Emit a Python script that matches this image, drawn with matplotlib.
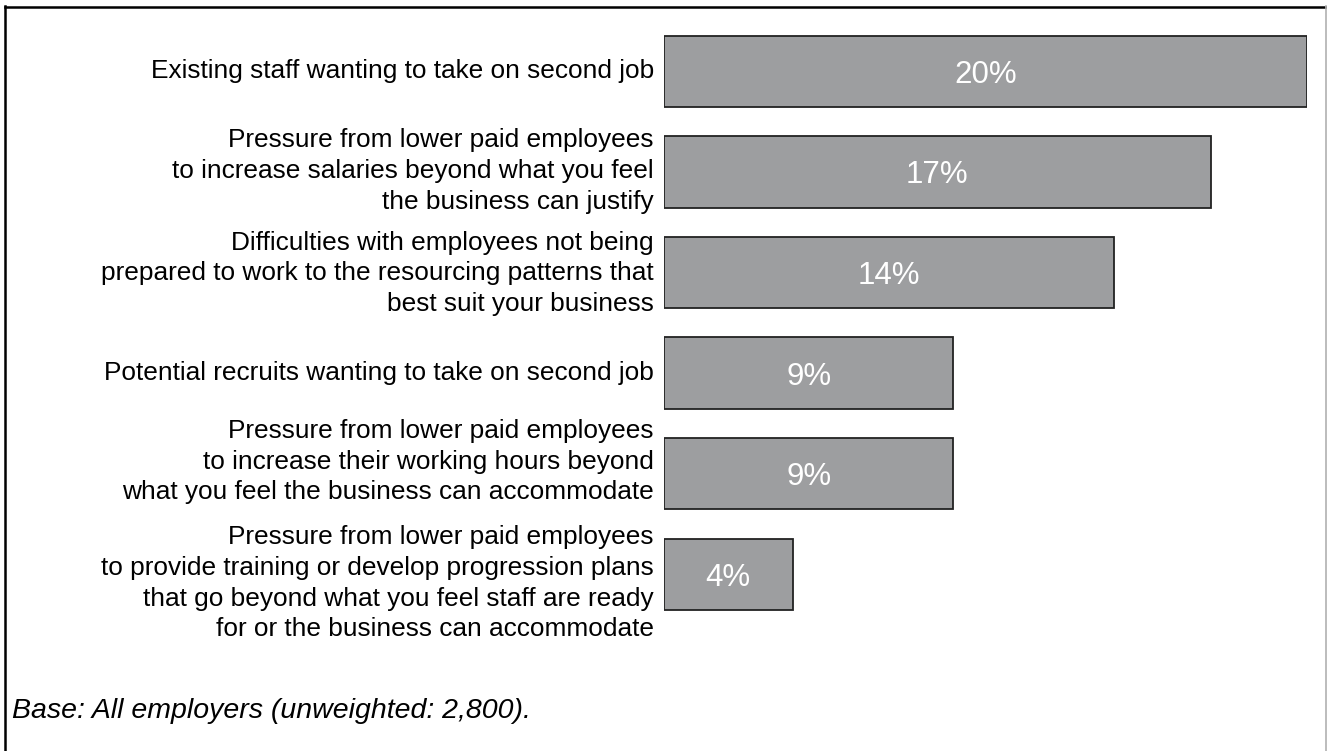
import numpy as np
import matplotlib.pyplot as plt
from matplotlib.lines import Line2D
from matplotlib.transforms import offset_copy

plt.rcParams['font.family'] = ['Liberation Sans', 'DejaVu Sans']

issues = [
    'Existing staff wanting to take on second job',
    'Pressure from lower paid employees\nto increase salaries beyond what you feel\nthe business can justify',
    'Difficulties with employees not being\nprepared to work to the resourcing patterns that\nbest suit your business',
    'Potential recruits wanting to take on second job',
    'Pressure from lower paid employees\nto increase their working hours beyond\nwhat you feel the business can accommodate',
    'Pressure from lower paid employees\nto provide training or develop progression plans\nthat go beyond what you feel staff are ready\nfor or the business can accommodate',
]
shares = [20, 17, 14, 9, 9, 4]
base_note = 'Base: All employers (unweighted: 2,800).'

# vertical nudge (pixels) of each category label relative to its bar
label_shift = [0, 1, -1, 0, 12, -9]

W, H = 1327, 751
fig = plt.figure(figsize=(W / 100, H / 100), dpi=100)
ax = fig.add_axes([664 / W, 1 - 624.5 / H, (1307 - 664) / W, (624.5 - 21) / H])

y = np.arange(len(shares))
ax.barh(y, shares, height=0.71, color='#9d9ea0', edgecolor='#222222', linewidth=1.3)
for yi, v in zip(y, shares):
    tr = offset_copy(ax.transData, fig=fig, x=0, y=-11.5, units='dots')
    ax.text(v / 2, yi, f'{v}%', ha='center', va='baseline', color='white',
            fontsize=22.5, transform=tr)

ax.set_xlim(0, 20)
ax.set_ylim(len(shares) - 0.5, -0.5)
ax.set_xticks([])
ax.set_yticks([])
for s in ax.spines.values():
    s.set_visible(False)

# category labels to the left of the bars, right aligned
for yi, lab, dy in zip(y, issues, label_shift):
    tr = offset_copy(ax.get_yaxis_transform(), fig=fig, x=-10, y=dy, units='dots')
    ax.text(0, yi, lab, ha='right', va='center', fontsize=18.9,
            linespacing=1.36, transform=tr, clip_on=False)

fig.text(12 / W, 1 - 718 / H, base_note, fontsize=20.5, style='italic',
         va='baseline', ha='left')

# frame around the figure
fig.add_artist(Line2D([5 / W, 5 / W], [0, 1 - 6 / H], transform=fig.transFigure, color='black', lw=1.8))
fig.add_artist(Line2D([5 / W, 1326 / W], [1 - 6.5 / H, 1 - 6.5 / H], transform=fig.transFigure, color='black', lw=1.8))
fig.add_artist(Line2D([1326 / W, 1326 / W], [0, 1 - 6 / H], transform=fig.transFigure, color='#b0b0b0', lw=1.2))

fig.savefig('out.png', dpi=100)
